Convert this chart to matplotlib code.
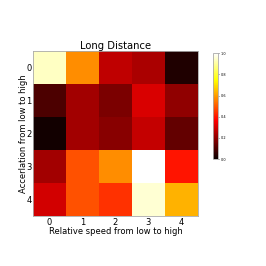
import numpy as np
import matplotlib
matplotlib.use("Agg")
import matplotlib.pyplot as plt

# heatmap values, rows = acceleration bins, columns = relative speed bins
speed_labels = ["0", "1", "2", "3", "4"]
accel_labels = ["0", "1", "2", "3", "4"]
row0 = [0.94, 0.575, 0.27, 0.24, 0.035]
row1 = [0.10, 0.23, 0.17, 0.31, 0.20]
row2 = [0.015, 0.23, 0.19, 0.28, 0.135]
row3 = [0.23, 0.485, 0.575, 1.0, 0.395]
row4 = [0.30, 0.485, 0.44, 0.955, 0.63]

data = np.array([row0, row1, row2, row3, row4])

fig = plt.figure(figsize=(2.66, 2.66), dpi=100)
ax = fig.add_axes([0.124, 0.188, 0.62, 0.62])
im = ax.imshow(data, cmap="hot", vmin=0, vmax=1, interpolation="nearest")

ax.set_xticks(range(len(speed_labels)))
ax.set_xticklabels(speed_labels, fontsize=6)
ax.set_yticks(range(len(accel_labels)))
ax.set_yticklabels(accel_labels, fontsize=6)
ax.tick_params(axis="x", length=0, pad=1.5)
ax.tick_params(axis="y", length=0, pad=1)
for s in ax.spines.values():
    s.set_color("#aaaaaa")
    s.set_linewidth(0.6)

ax.set_title("Long Distance", fontsize=7.2, pad=1)
ax.set_xlabel("Relative speed from low to high", fontsize=6, labelpad=0)
ax.set_ylabel("Accerlation from low to high", fontsize=6, labelpad=-1)

cax = fig.add_axes([0.80, 0.402, 0.019, 0.398])
cb = fig.colorbar(im, cax=cax, ticks=[0, 0.2, 0.4, 0.6, 0.8, 1.0])
cb.ax.tick_params(labelsize=2.5, length=1, width=0.4, pad=1)
cb.ax.set_yticklabels(["0.0", "0.2", "0.4", "0.6", "0.8", "1.0"])
cb.outline.set_edgecolor("#aaaaaa")
cb.outline.set_linewidth(0.6)

fig.savefig("out.png", dpi=100)
